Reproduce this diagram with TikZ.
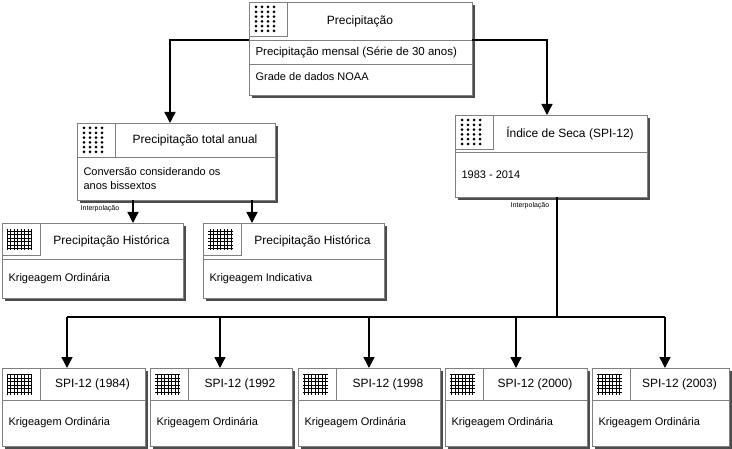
\documentclass[tikz,border=0pt]{standalone}
\usepackage{fontspec}
\setmainfont{Liberation Sans}
\usetikzlibrary{arrows.meta}
\newcommand\dotsicon[2]{% x y top-left
  \draw[gray] (#1,#2) rectangle ++(38,-34);
  \foreach \i in {0,...,3}{\foreach \j in {0,...,5}{\fill (#1+7+\i*6,#2-5-\j*4.8) circle (1.5);}}}
\newcommand\gridicon[2]{%
  \draw[gray] (#1,#2) rectangle ++(38,-32);
  \draw[line width=0.6pt] (#1+5,#2-6) grid[step=3.5] ++(24.5,-21);}
% name, x, y (top), w, h, header height, icon macro, title, body
\newcommand\diabox[9]{%
  \fill[black!70] (#2+3,#3-3) rectangle ++(#4,-#5);
  \node[draw=gray,fill=white,minimum width=#4,minimum height=#5,anchor=north west,inner sep=0] (#1) at (#2,#3) {};
  \draw[gray] (#2,#3-#6) -- ++(#4,0);
  #7{#2}{#3}
  \node[anchor=center] at (#2+38+0.5*#4-19,#3-0.5*#6) {#8};
  \node[anchor=west,align=left,font=\fontsize{11}{14}\selectfont] at (#2+3,#3-#6-0.5*#5+0.5*#6) {#9};}
\begin{document}
\begin{tikzpicture}[x=1pt,y=1pt,font=\fontsize{12}{14}\selectfont,
  arr/.style={line width=1.4pt,-{Triangle[width=11pt,length=11pt]}},
  lbl/.style={font=\fontsize{7}{8}\selectfont}]
\useasboundingbox (0,0) rectangle (732,448);
\fill[white] (0,0) rectangle (732,448);
% top box
\fill[black!70] (252,443) rectangle ++(223,-93);
\node[draw=gray,fill=white,minimum width=223,minimum height=93,anchor=north west,inner sep=0] (top) at (249,446) {};
\draw[gray] (249,408) -- ++(223,0);
\draw[gray] (249,384) -- ++(223,0);
\dotsicon{249}{446}
\node at (360,427) {Precipitação};
\node[anchor=west,font=\fontsize{11.5}{14}\selectfont] at (252,396) {Precipitação mensal (Série de 30 anos)};
\node[anchor=west,font=\fontsize{11}{13}\selectfont] at (252,371) {Grade de dados NOAA};
\diabox{anual}{77}{325}{198}{77}{34}{\dotsicon}{Precipitação total anual}{Conversão considerando os\\anos bissextos}
\diabox{seca}{455}{333}{192}{82}{37}{\dotsicon}{Índice de Seca (SPI-12)}{1983 - 2014}
\diabox{hist1}{2}{225}{181}{75}{36}{\gridicon}{Precipitação Histórica}{Krigeagem Ordinária}
\diabox{hist2}{203}{225}{181}{75}{36}{\gridicon}{Precipitação Histórica}{Krigeagem Indicativa}
\diabox{s1}{2}{80}{143}{78}{32}{\gridicon}{SPI-12 (1984)}{Krigeagem Ordinária}
\diabox{s2}{150}{80}{142}{78}{32}{\gridicon}{SPI-12 (1992}{Krigeagem Ordinária}
\diabox{s3}{298}{80}{142}{78}{32}{\gridicon}{SPI-12 (1998}{Krigeagem Ordinária}
\diabox{s4}{445}{80}{142}{78}{32}{\gridicon}{SPI-12 (2000)}{Krigeagem Ordinária}
\diabox{s5}{592}{80}{137}{78}{32}{\gridicon}{SPI-12 (2003)}{Krigeagem Ordinária}
% connectors
\draw[arr] (top.west|-0,408) -| (anual.north -| 170,0);
\draw[arr] (top.east|-0,408) -| (seca.north -| 547,0);
\draw[arr] (anual.south -| 133,0) -- (hist1.north -| 133,0);
\draw[arr] (anual.south -| 252,0) -- (hist2.north -| 252,0);
\node[lbl] at (100,239) {Interpolação};
\node[lbl] at (530,242) {Interpolação};
\coordinate (j) at (557,131);
\draw[line width=1.4pt] (seca.south -| 557,0) -- (j);
\draw[line width=1.4pt] (67,131) -- (665,131);
\foreach \n/\x in {s1/67,s2/220,s3/369,s4/516,s5/665}{\draw[arr] (\x,131) -- (\n.north -| \x,0);}
\end{tikzpicture}
\end{document}
